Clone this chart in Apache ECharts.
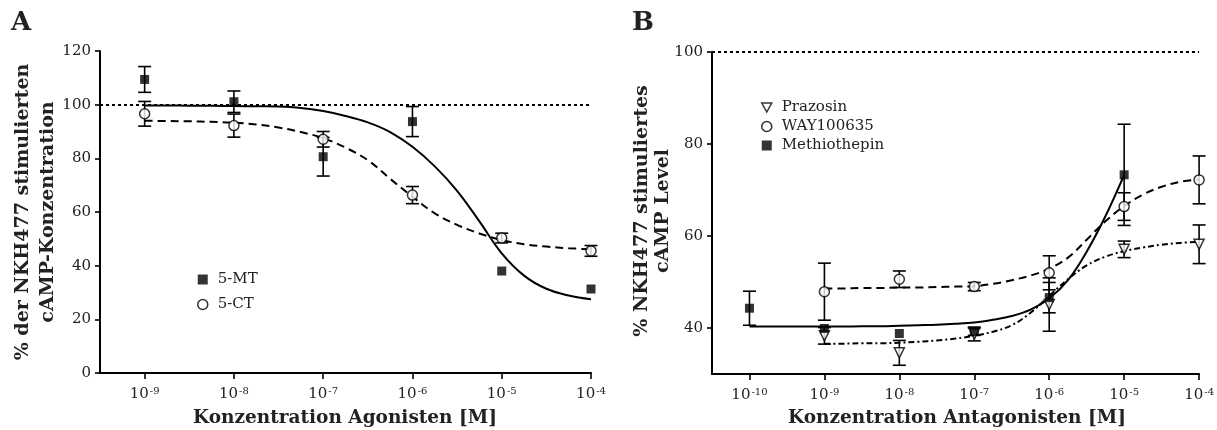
<!DOCTYPE html>
<html>
<head>
<meta charset="utf-8">
<script src="https://cdn.jsdelivr.net/npm/echarts@6/dist/echarts.min.js"></script>
<style>
  html, body { margin: 0; padding: 0; background: #fff; }
  #chart { width: 1217px; height: 430px; }
</style>
</head>
<body>
<div id="chart"></div>
<script>
// Panel A: Agonisten (x = log10 Konzentration)
var doseA = [-9, -8, -7, -6, -5, -4];
var mt5Mean = [109.4, 101.1, 80.6, 93.7, 38.0, 31.3];
var mt5Err = [4.8, 4.0, 7.2, 5.6, 0, 0];
var ct5Mean = [96.6, 92.2, 87.1, 66.3, 50.3, 45.5];
var ct5Err = [4.6, 4.3, 2.9, 3.2, 1.8, 2.0];
// gefittete Kurven (Schritt 0.25 log)
var fitXA = [-9, -8.75, -8.5, -8.25, -8, -7.75, -7.5, -7.25, -7, -6.75, -6.5,
             -6.25, -6, -5.75, -5.5, -5.25, -5, -4.75, -4.5, -4.25, -4];
var fitMT = [99.7, 99.7, 99.6, 99.6, 99.5, 99.4, 99.3, 98.8, 97.6, 95.8, 93.4,
             89.8, 84.3, 77.0, 67.9, 56.5, 44.6, 36.3, 31.4, 28.9, 27.5];
var fitCT = [94.0, 93.9, 93.8, 93.6, 93.3, 92.6, 91.5, 89.8, 87.5, 84.0, 79.3,
             72.4, 65.7, 59.5, 55.2, 52.0, 49.6, 48.0, 47.1, 46.5, 46.1];

// Panel B: Antagonisten
var doseB = [-10, -9, -8, -7, -6, -5, -4];
var prazMean = [38.3, 34.6, 38.7, 45.1, 57.1, 58.2];
var prazErr = [1.8, 2.7, 1.5, 5.8, 1.8, 4.2];
var wayMean = [47.9, 50.6, 49.0, 52.0, 66.4, 72.2];
var wayErr = [6.2, 1.8, 0.9, 3.7, 3.0, 5.2];
var methMean = [44.3, 39.9, 38.8, 39.2, 46.6, 73.3];
var methErr = [3.7, 0, 0, 0.8, 3.3, 11.0];
var fitXMeth = [-10, -9.75, -9.5, -9.25, -9, -8.75, -8.5, -8.25, -8, -7.75, -7.5,
                -7.25, -7, -6.75, -6.5, -6.25, -6, -5.75, -5.5, -5.25, -5];
var fitMeth = [40.3, 40.3, 40.3, 40.3, 40.3, 40.3, 40.4, 40.4, 40.5, 40.6, 40.7,
               40.9, 41.2, 41.8, 42.6, 44.0, 46.4, 50.4, 56.6, 64.3, 73.3];
var fitXB = [-9, -8.75, -8.5, -8.25, -8, -7.75, -7.5, -7.25, -7, -6.75, -6.5,
             -6.25, -6, -5.75, -5.5, -5.25, -5, -4.75, -4.5, -4.25, -4];
var fitWay = [48.6, 48.6, 48.7, 48.7, 48.8, 48.8, 48.9, 49.0, 49.1, 49.6, 50.4,
              51.4, 52.9, 55.3, 59.2, 63.2, 66.5, 69.0, 70.7, 71.8, 72.3];
var fitPraz = [36.6, 36.6, 36.7, 36.7, 36.8, 37.0, 37.3, 37.7, 38.3, 39.2, 40.6,
               43.3, 47.0, 50.6, 53.6, 55.5, 56.7, 57.5, 58.1, 58.5, 58.7];

var FONT = 'DejaVu Serif';
var myChart = echarts.init(document.getElementById('chart'));

function zip(xs, ys) {
    return xs.map(function (x, i) { return [x, ys[i]]; });
}

function errBars(idx, xs, means, errs) {
    var data = [];
    xs.forEach(function (x, i) {
        if (errs[i] > 0) data.push([x, means[i] - errs[i], means[i] + errs[i]]);
    });
    return {
        type: 'custom',
        xAxisIndex: idx, yAxisIndex: idx,
        z: 3,
        silent: true,
        encode: {x: 0, y: [1, 2]},
        data: data,
        renderItem: function (params, api) {
            var lo = api.coord([api.value(0), api.value(1)]);
            var hi = api.coord([api.value(0), api.value(2)]);
            var w = 6.5;
            var st = {stroke: '#000', lineWidth: 1.6};
            return {
                type: 'group',
                children: [
                    {type: 'line', shape: {x1: lo[0], y1: lo[1], x2: hi[0], y2: hi[1]}, style: st},
                    {type: 'line', shape: {x1: lo[0] - w, y1: lo[1], x2: lo[0] + w, y2: lo[1]}, style: st},
                    {type: 'line', shape: {x1: hi[0] - w, y1: hi[1], x2: hi[0] + w, y2: hi[1]}, style: st}
                ]
            };
        }
    };
}

function fitLine(idx, name, pts, dash, ref) {
    var s = {
        type: 'line', name: name,
        xAxisIndex: idx, yAxisIndex: idx,
        data: pts, smooth: 0.4, symbol: 'none', z: 2,
        lineStyle: {color: '#000', width: 2, type: dash}
    };
    if (ref) {
        s.markLine = {
            silent: true, symbol: ['none', 'none'],
            label: {show: false},
            lineStyle: {color: '#000', width: 2, type: [3, 3]},
            data: [{yAxis: 100}]
        };
    }
    return s;
}

function dots(idx, name, pts, symbol, filled) {
    return {
        type: 'scatter', name: name,
        xAxisIndex: idx, yAxisIndex: idx,
        data: pts, symbol: symbol, symbolSize: filled ? 9 : 10, z: 5,
        itemStyle: filled ? {color: '#000'} : {color: '#fff', borderColor: '#000', borderWidth: 1.5}
    };
}

var supLabel = {
    fontFamily: FONT, color: '#222', margin: 13,
    formatter: function (v) { return '{b|10}{s|' + v + '}'; },
    rich: {
        b: {fontFamily: FONT, fontSize: 15, color: '#222'},
        s: {fontFamily: FONT, fontSize: 10, color: '#222', verticalAlign: 'top', padding: [0, 0, 6, 1]}
    }
};

function xAxisDef(idx, min, ticks) {
    return {
        type: 'value', gridIndex: idx, min: min, max: -4,
        axisLine: {lineStyle: {color: '#000', width: 2}},
        axisTick: {customValues: ticks, length: 6, lineStyle: {color: '#000', width: 1.6}},
        axisLabel: Object.assign({customValues: ticks}, supLabel),
        splitLine: {show: false}
    };
}

var triPath = 'path://M0,0 L10,0 L5,9 Z';
var titleFont = 'bold 19px "DejaVu Serif"';
var xTitleFont = 'bold 18.5px "DejaVu Serif"';

myChart.setOption({
    animation: false,
    grid: [
        {left: 100, top: 51, width: 491, height: 322},
        {left: 712, top: 52, width: 491, height: 322}
    ],
    xAxis: [xAxisDef(0, -9.5, doseA), xAxisDef(1, -10.5, doseB)],
    yAxis: [
        {
            type: 'value', gridIndex: 0, min: 0, max: 120, interval: 20,
            axisLine: {show: true, lineStyle: {color: '#000', width: 2}},
            axisTick: {show: true, length: 5, lineStyle: {color: '#000', width: 1.6}},
            axisLabel: {fontFamily: FONT, fontSize: 15, color: '#222', margin: 9},
            splitLine: {show: false}
        },
        {
            type: 'value', gridIndex: 1, min: 30, max: 100,
            axisLine: {show: true, lineStyle: {color: '#000', width: 2}},
            axisTick: {show: true, customValues: [40, 60, 80, 100], length: 5, lineStyle: {color: '#000', width: 1.6}},
            axisLabel: {customValues: [40, 60, 80, 100], fontFamily: FONT, fontSize: 15, color: '#222', margin: 9},
            splitLine: {show: false}
        }
    ],
    legend: [
        {
            orient: 'vertical', left: 197, top: 272, itemGap: 10, padding: 0,
            itemWidth: 10, itemHeight: 10,
            textStyle: {fontFamily: FONT, fontSize: 15, color: '#222', padding: [0, 0, 0, 5]},
            data: [
                {name: '5-MT', icon: 'rect', itemStyle: {color: '#000'}},
                {name: '5-CT', icon: 'circle', itemStyle: {color: '#fff', borderColor: '#000', borderWidth: 1.5}}
            ]
        },
        {
            orient: 'vertical', left: 761, top: 100, itemGap: 4, padding: 0,
            itemWidth: 10, itemHeight: 10,
            textStyle: {fontFamily: FONT, fontSize: 15, color: '#222', padding: [0, 0, 0, 5]},
            data: [
                {name: 'Prazosin', icon: triPath, itemStyle: {color: '#fff', borderColor: '#000', borderWidth: 1.5}},
                {name: 'WAY100635', icon: 'circle', itemStyle: {color: '#fff', borderColor: '#000', borderWidth: 1.5}},
                {name: 'Methiothepin', icon: 'rect', itemStyle: {color: '#000'}}
            ]
        }
    ],
    graphic: [
        {type: 'text', left: 11, top: 10, style: {text: 'A', font: 'bold 26px "DejaVu Serif"', fill: '#222'}},
        {type: 'text', left: 632, top: 10, style: {text: 'B', font: 'bold 26px "DejaVu Serif"', fill: '#222'}},
        {type: 'text', x: 23, y: 212, rotation: Math.PI / 2,
            style: {text: '% der NKH477 stimulierten', font: titleFont, fill: '#222', align: 'center', verticalAlign: 'middle'}},
        {type: 'text', x: 48, y: 212, rotation: Math.PI / 2,
            style: {text: 'cAMP-Konzentration', font: titleFont, fill: '#222', align: 'center', verticalAlign: 'middle'}},
        {type: 'text', x: 642, y: 211, rotation: Math.PI / 2,
            style: {text: '% NKH477 stimuliertes', font: titleFont, fill: '#222', align: 'center', verticalAlign: 'middle'}},
        {type: 'text', x: 663, y: 211, rotation: Math.PI / 2,
            style: {text: 'cAMP Level', font: titleFont, fill: '#222', align: 'center', verticalAlign: 'middle'}},
        {type: 'text', x: 345, y: 418,
            style: {text: 'Konzentration Agonisten [M]', font: xTitleFont, fill: '#222', align: 'center', verticalAlign: 'middle'}},
        {type: 'text', x: 957, y: 418,
            style: {text: 'Konzentration Antagonisten [M]', font: xTitleFont, fill: '#222', align: 'center', verticalAlign: 'middle'}}
    ],
    series: [
        fitLine(0, 'fit 5-MT', zip(fitXA, fitMT), 'solid', true),
        fitLine(0, 'fit 5-CT', zip(fitXA, fitCT), [8, 5], false),
        errBars(0, doseA, mt5Mean, mt5Err),
        errBars(0, doseA, ct5Mean, ct5Err),
        dots(0, '5-MT', zip(doseA, mt5Mean), 'rect', true),
        dots(0, '5-CT', zip(doseA, ct5Mean), 'circle', false),

        fitLine(1, 'fit Methiothepin', zip(fitXMeth, fitMeth), 'solid', true),
        fitLine(1, 'fit WAY100635', zip(fitXB, fitWay), [8, 5], false),
        fitLine(1, 'fit Prazosin', zip(fitXB, fitPraz), [6, 3, 2, 3], false),
        errBars(1, doseB.slice(1), prazMean, prazErr),
        errBars(1, doseB.slice(1), wayMean, wayErr),
        errBars(1, doseB.slice(0, 6), methMean, methErr),
        dots(1, 'Prazosin', zip(doseB.slice(1), prazMean), triPath, false),
        dots(1, 'WAY100635', zip(doseB.slice(1), wayMean), 'circle', false),
        dots(1, 'Methiothepin', zip(doseB.slice(0, 6), methMean), 'rect', true)
    ]
});
</script>
</body>
</html>
